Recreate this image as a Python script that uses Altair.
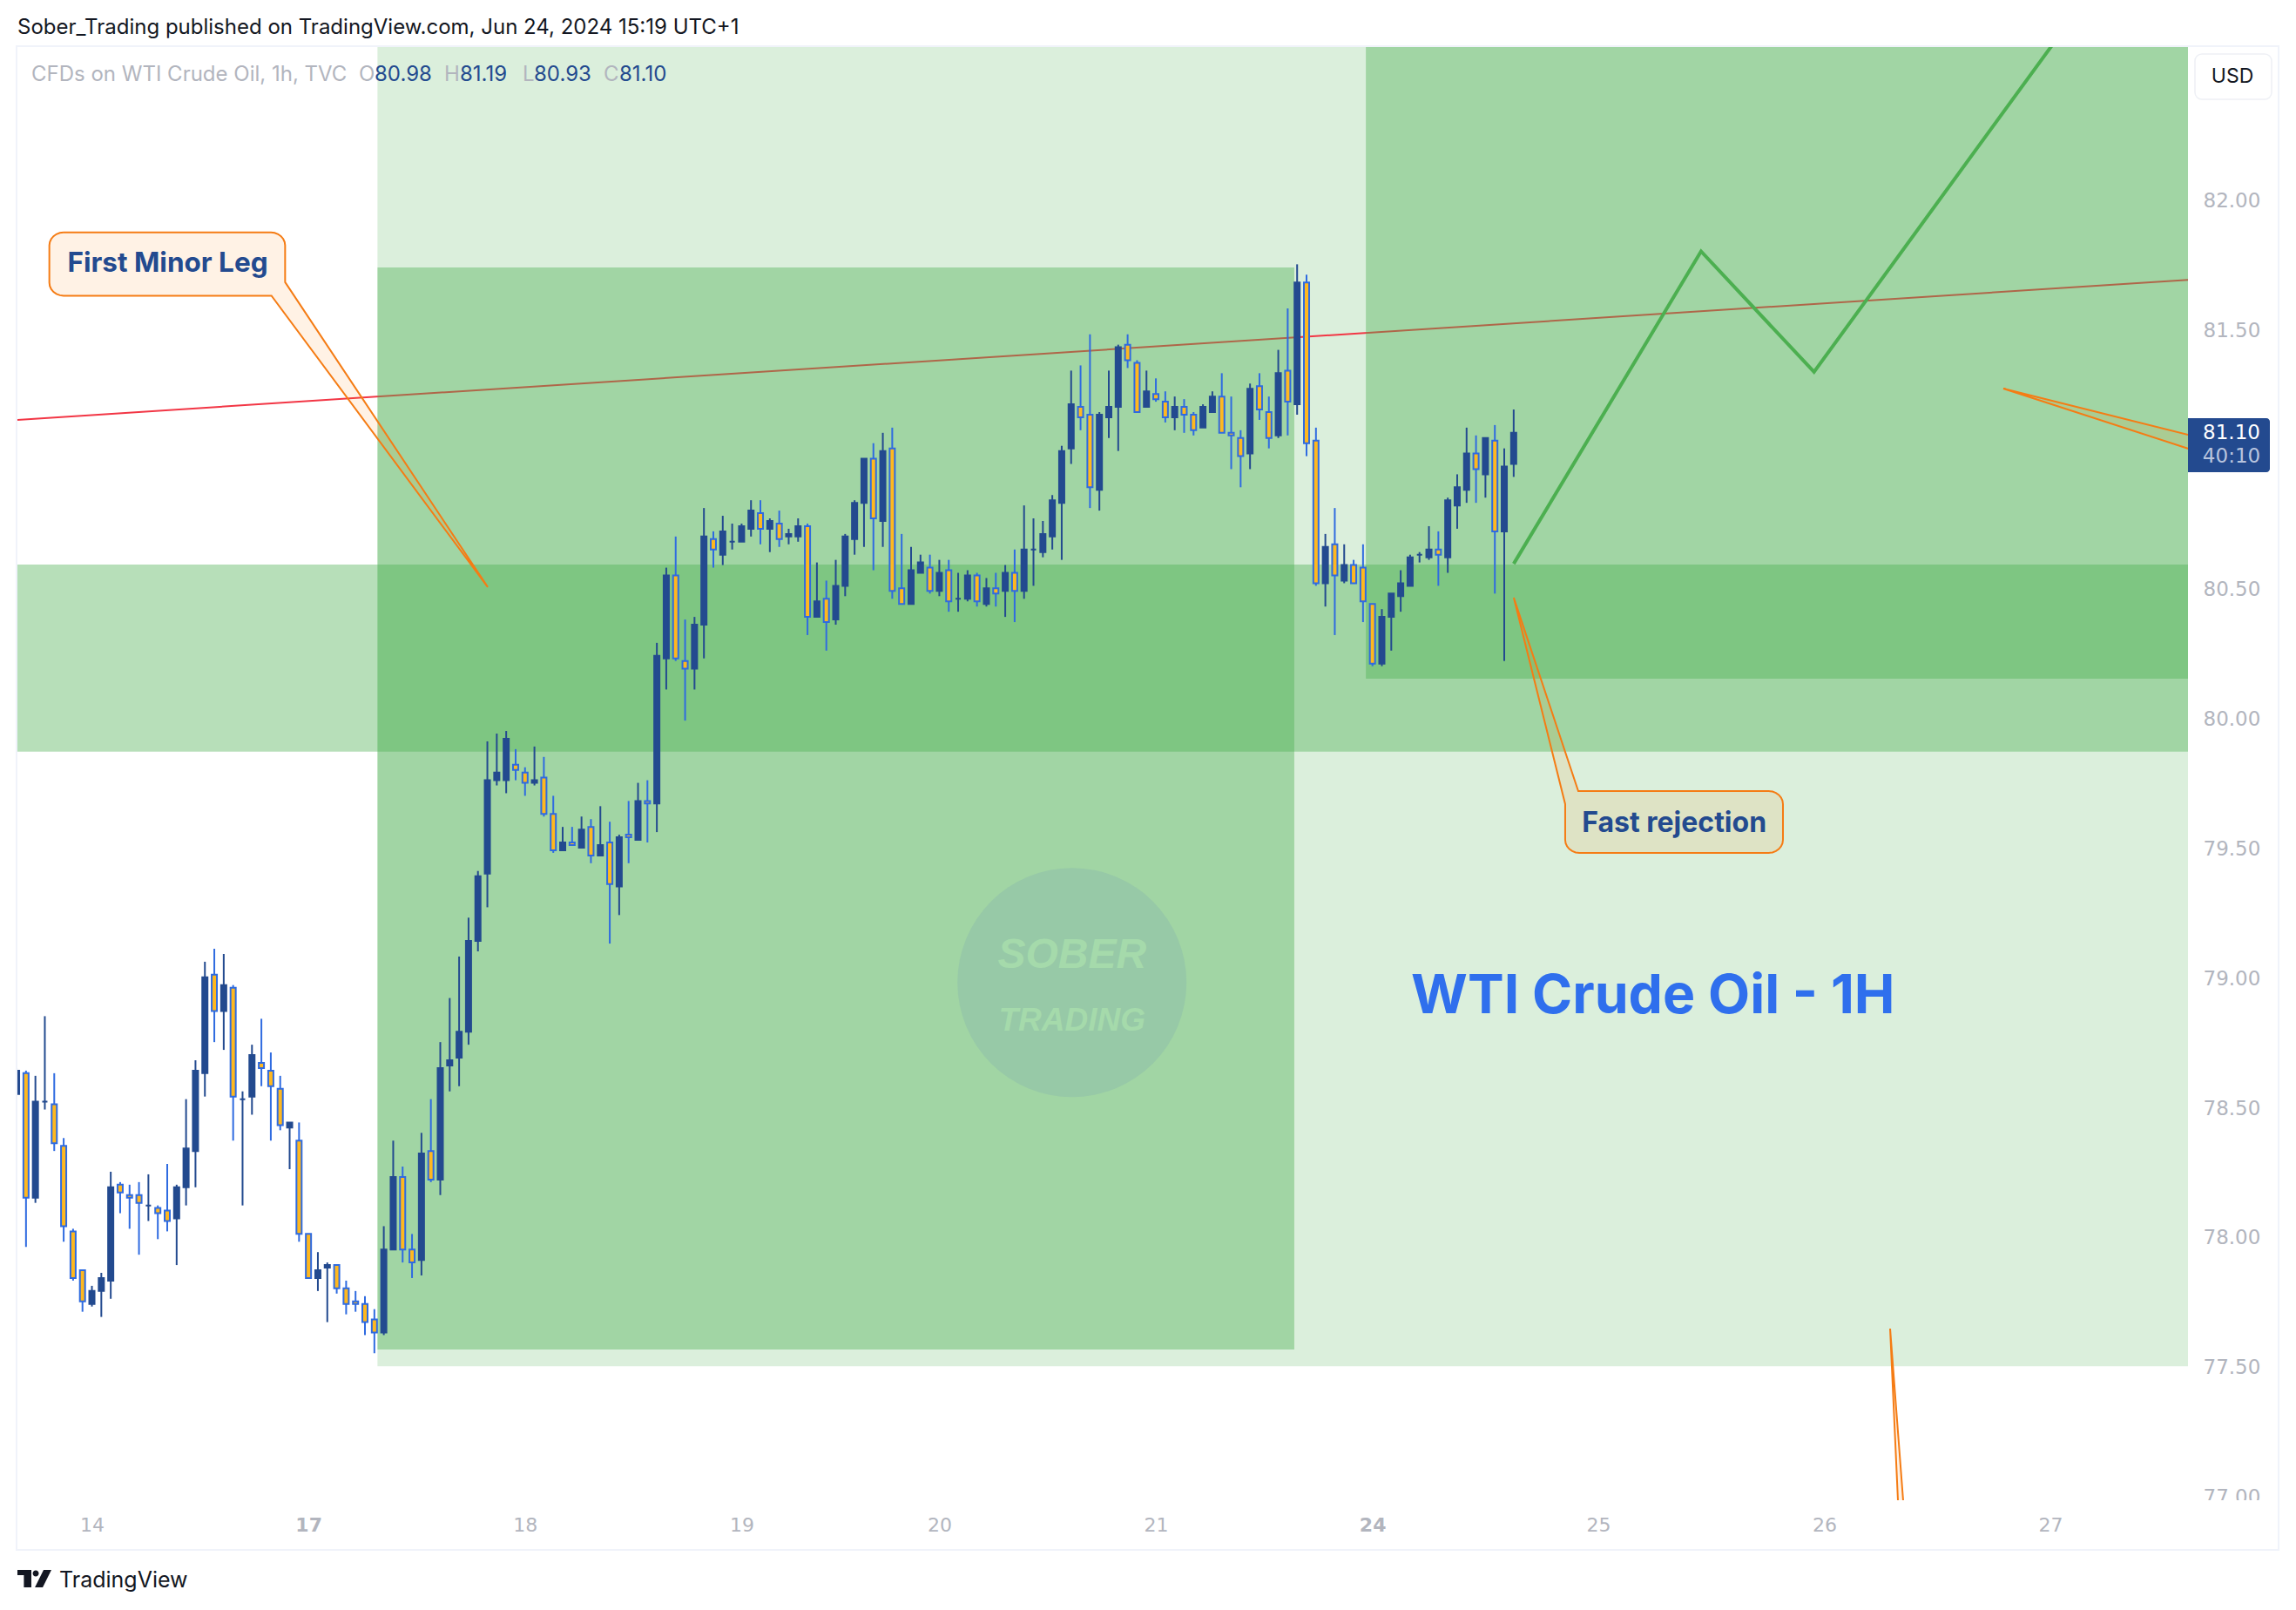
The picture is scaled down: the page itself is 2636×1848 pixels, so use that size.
import math
import altair as alt
import pandas as pd

NAVY = "#234A8F"; BLUE = "#2F6BE0"; ORANGE = "#FFB81F"; GREEN = "#4CAF50"; CALL = "#F57C14"; GREY = "#B2B5BE"; INK = "#131722"
FONT = "Inter"

opens = [78.55,78.63,78.15,78.52,78.51,78.35,78.02,77.87,77.74,77.79,77.83,78.20,78.16,78.16,78.12,78.11,78.10,78.07,78.19,78.33,
78.63,79.01,78.87,78.96,78.53,78.54,78.67,78.64,78.57,78.42,78.37,78.01,77.84,77.88,77.89,77.80,77.75,77.74,77.68,77.63,
77.95,78.23,77.95,77.91,78.33,78.22,78.66,78.69,78.79,79.14,79.40,79.76,79.76,79.82,79.79,79.75,79.77,79.63,79.49,79.52,
79.50,79.58,79.47,79.52,79.35,79.55,79.53,79.68,79.67,80.23,80.55,80.22,80.19,80.36,80.69,80.63,80.68,80.68,80.73,80.79,
80.73,80.75,80.70,80.70,80.74,80.39,80.46,80.38,80.51,80.69,80.83,81.00,80.76,81.04,80.50,80.44,80.56,80.58,80.49,80.57,
80.46,80.46,80.55,80.44,80.50,80.49,80.56,80.49,80.65,80.64,80.70,80.83,81.04,81.20,81.17,80.88,81.16,81.20,81.44,81.37,
81.20,81.25,81.22,81.16,81.20,81.17,81.12,81.18,81.24,81.10,81.08,81.02,81.28,81.18,81.09,81.34,81.21,81.68,81.07,80.52,
80.67,80.53,80.59,80.58,80.44,80.21,80.39,80.47,80.51,80.63,80.62,80.65,80.62,80.82,80.88,81.02,80.94,81.07,80.72,80.98]
highs = [78.65,78.64,78.62,78.85,78.63,78.38,78.03,77.87,77.81,77.86,78.25,78.21,78.20,78.21,78.24,78.12,78.28,78.20,78.53,78.68,
79.06,79.11,79.09,78.97,78.56,78.74,78.84,78.71,78.62,78.44,78.44,78.01,77.94,77.90,77.89,77.83,77.79,77.77,77.72,78.04,
78.37,78.27,78.01,78.40,78.53,78.75,78.92,79.08,79.23,79.41,79.91,79.94,79.95,79.88,79.81,79.89,79.85,79.70,79.58,79.58,
79.62,79.61,79.66,79.60,79.55,79.68,79.75,79.76,80.29,80.58,80.70,80.38,80.39,80.81,80.72,80.78,80.75,80.75,80.84,80.84,
80.77,80.80,80.73,80.77,80.75,80.60,80.53,80.61,80.71,80.84,81.00,81.06,81.10,81.12,80.71,80.66,80.63,80.63,80.61,80.61,
80.56,80.57,80.56,80.54,80.56,80.59,80.65,80.82,80.77,80.76,80.86,81.05,81.34,81.36,81.48,81.18,81.34,81.44,81.48,81.38,
81.34,81.31,81.26,81.24,81.23,81.18,81.21,81.26,81.33,81.24,81.11,81.29,81.33,81.24,81.42,81.58,81.75,81.71,81.12,80.71,
80.81,80.67,80.61,80.67,80.44,80.42,80.48,80.57,80.63,80.64,80.74,80.72,80.85,80.94,81.12,81.09,81.08,81.13,81.04,81.19]
lows = [78.55,77.96,78.13,78.49,78.33,77.98,77.83,77.71,77.73,77.69,77.76,78.09,78.03,77.93,78.06,77.99,78.02,77.89,78.12,78.19,
78.54,78.75,78.72,78.37,78.12,78.47,78.58,78.37,78.41,78.26,77.98,77.84,77.79,77.67,77.78,77.70,77.71,77.62,77.55,77.62,
77.95,77.90,77.84,77.85,78.21,78.16,78.56,78.58,78.74,79.10,79.27,79.74,79.71,79.76,79.70,79.74,79.62,79.48,79.49,79.51,
79.50,79.44,79.47,79.13,79.24,79.44,79.53,79.52,79.56,80.11,80.22,79.99,80.11,80.23,80.58,80.59,80.65,80.68,80.70,80.67,
80.64,80.66,80.67,80.68,80.32,80.39,80.26,80.36,80.47,80.63,80.66,80.57,80.66,80.46,80.44,80.44,80.56,80.48,80.47,80.41,
80.41,80.45,80.43,80.43,80.43,80.39,80.37,80.46,80.51,80.62,80.65,80.61,80.98,81.11,80.81,80.80,81.08,81.03,81.35,81.18,
81.20,81.22,81.14,81.11,81.10,81.09,81.12,81.18,81.10,80.96,80.89,80.96,81.15,81.04,81.08,81.09,81.17,81.01,80.51,80.43,
80.32,80.52,80.52,80.37,80.20,80.20,80.26,80.41,80.51,80.60,80.61,80.51,80.56,80.73,80.83,80.83,80.85,80.48,80.22,80.93]
closes = [78.64,78.15,78.52,78.52,78.36,78.04,77.84,77.75,77.79,77.84,78.19,78.17,78.15,78.13,78.12,78.09,78.06,78.19,78.34,78.64,
79.00,78.87,78.97,78.54,78.53,78.70,78.65,78.58,78.43,78.44,78.01,77.84,77.87,77.89,77.80,77.74,77.74,77.67,77.63,77.95,
78.23,77.95,77.90,78.32,78.22,78.65,78.68,78.79,79.14,79.39,79.76,79.79,79.92,79.80,79.75,79.76,79.63,79.49,79.52,79.51,
79.57,79.47,79.51,79.36,79.54,79.54,79.68,79.67,80.24,80.55,80.23,80.19,80.36,80.70,80.65,80.72,80.68,80.74,80.80,80.73,
80.76,80.69,80.71,80.74,80.39,80.45,80.37,80.51,80.70,80.83,81.00,80.77,81.03,80.49,80.44,80.57,80.60,80.49,80.56,80.45,
80.46,80.55,80.45,80.50,80.48,80.56,80.49,80.65,80.65,80.71,80.84,81.03,81.21,81.16,80.89,81.17,81.20,81.43,81.38,81.18,
81.26,81.23,81.16,81.20,81.17,81.11,81.20,81.24,81.10,81.09,81.01,81.27,81.19,81.08,81.33,81.22,81.68,81.06,80.52,80.66,
80.55,80.59,80.52,80.45,80.21,80.39,80.48,80.52,80.62,80.63,80.65,80.63,80.84,80.89,81.02,80.96,81.08,80.72,80.97,81.10]
first_bar = -1

day_bars = [7, 30, 53, 76, 97, 120, 143, 167, 191, 215]
day_labels = ["14", "17", "18", "19", "20", "21", "24", "25", "26", "27"]
bold_bars = [30, 143]
price_ticks = [77.0, 77.5, 78.0, 78.5, 79.0, 79.5, 80.0, 80.5, 81.0, 81.5, 82.0]

X_MIN, X_MAX = -0.911, 229.616
Y_MIN, Y_MAX = 76.983, 82.588
W, H = 2492, 1668

zones = {
    "premium": dict(x=37.33, x2=X_MAX, y=77.5, y2=Y_MAX, o=0.2),
    "leg": dict(x=37.33, x2=134.7, y=77.564, y2=81.738, o=0.4),
    "target": dict(x=142.3, x2=X_MAX, y=80.152, y2=Y_MAX, o=0.4),
    "band": dict(x=X_MIN, x2=X_MAX, y=79.87, y2=80.592, o=0.4),
}
trend_x = [X_MIN, X_MAX]
trend_y = [81.15, 81.69]
proj_x = [158.0, 177.9, 189.9, 219.3]
proj_y = [80.595, 81.80, 81.335, 82.80]

label_expr = "[" + ",".join(f"'{d}'" for d in day_labels) + "][indexof([" + ",".join(map(str, day_bars)) + "],datum.value)]"
bold_test = " || ".join(f"datum.value=={b}" for b in bold_bars)
xaxis = alt.Axis(values=day_bars, labelExpr=label_expr, grid=False, domain=False, ticks=False, labelPadding=18,
                 labelFontSize=22, labelColor=GREY, labelFont="DejaVu Sans", labelOverlap=False, labelFlush=False, title=None,
                 labelFontWeight={"condition": {"test": bold_test, "value": "bold"}, "value": "normal"})
yaxis = alt.Axis(orient="right", values=price_ticks, format=".2f", grid=False, domain=False, ticks=False, labelPadding=17,
                 labelFontSize=23, labelColor=GREY, labelFont="DejaVu Sans", labelOverlap=False, labelFlush=False, title=None,
                 labelOffset=1.5)

xs = alt.Scale(domain=[X_MIN, X_MAX], nice=False, zero=False, padding=0)
ys = alt.Scale(domain=[Y_MIN, Y_MAX], nice=False, zero=False, padding=0)
def X(f="x"): return alt.X(f"{f}:Q", scale=xs, axis=xaxis)
def Y(f="y"): return alt.Y(f"{f}:Q", scale=ys, axis=yaxis)

RX, RY = 1.5, 0.05  # corner radius in bars / price
def arc(cx, cy, a0, a1):
    return [(cx + RX * math.cos(math.radians(a0 + (a1 - a0) * k / 6)),
             cy + RY * math.sin(math.radians(a0 + (a1 - a0) * k / 6))) for k in range(7)]

def callout_a(l, r, t, b, tail_y, tip, tail_x):
    pts = [(l + RX, t)] + arc(r - RX, t - RY, 90, 0) + [(r, tail_y), tip, (tail_x, b)]
    pts += arc(l + RX, b + RY, 270, 180) + arc(l + RX, t - RY, 180, 90)
    return pts

def callout_b(l, r, t, b, tail_y, tip, tail_x):
    pts = [tip, (tail_x, t)] + arc(r - RX, t - RY, 90, 0) + arc(r - RX, b + RY, 0, -90)
    pts += arc(l + RX, b + RY, 270, 180) + [(l, tail_y), tip]
    return pts

shapes = [
    callout_a(2.48, 27.52, 81.873, 81.629, 81.681, (49.04, 80.505), 26.07),
    callout_b(163.47, 186.6, 79.718, 79.480, 79.668, (158.01, 80.464), 164.86),
    [(210.0, 81.271), (234.06, 81.052), (234.06, 80.987), (210.0, 81.271)],
    [(197.98, 77.645), (198.97, 76.855), (199.63, 76.855), (197.98, 77.645)],
]

def zone(name):
    z = zones[name]
    return alt.Chart(pd.DataFrame([z])).mark_rect(color=GREEN, opacity=z["o"], clip=True).encode(
        x=X(), x2="x2:Q", y=Y(), y2="y2:Q")

def line(xv, yv, **kw):
    df = pd.DataFrame({"x": xv, "y": yv, "o": range(len(xv))})
    return alt.Chart(df).mark_line(clip=True, **kw).encode(x=X(), y=Y(), order="o:Q")

def chrome_text(txt, px, py, **kw):
    kw.setdefault("font", FONT)
    return alt.Chart(pd.DataFrame({"t": [txt]})).mark_text(**kw).encode(
        text="t:N", x=alt.value(px - 20), y=alt.value(py - 54))

def data_text(txt, xv, yv, **kw):
    kw.setdefault("font", FONT)
    return alt.Chart(pd.DataFrame({"t": [txt], "x": [xv], "y": [yv]})).mark_text(**kw).encode(
        text="t:N", x=X(), y=Y())

candles = pd.DataFrame({"x": range(first_bar, first_bar + len(opens)), "o": opens, "h": highs, "l": lows, "c": closes})
candles["top"] = candles[["o", "c"]].max(axis=1)
candles["bot"] = candles[["o", "c"]].min(axis=1)
up = candles[candles.c >= candles.o]
dn = candles[candles.c < candles.o]

def wicks(df, col):
    return alt.Chart(df).mark_rule(color=col, strokeWidth=2, clip=True).encode(x=X(), y=Y("h"), y2="l:Q")
def bodies(df, fill, stroke):
    return alt.Chart(df).mark_bar(size=6, fill=fill, stroke=stroke, strokeWidth=2, clip=True).encode(x=X(), y=Y("top"), y2="bot:Q")

logo_path = ("M-1 -0.51 L-0.18 -0.51 L-0.18 0.51 L-0.62 0.51 L-0.62 -0.2 L-1 -0.2 Z "
             "M-0.1 -0.31 A0.18 0.18 0 1 0 0.26 -0.31 A0.18 0.18 0 1 0 -0.1 -0.31 Z "
             "M1 -0.51 L0.54 -0.51 L0.03 0.51 L0.49 0.51 Z")

layers = [zone("premium"), line(trend_x, trend_y, color="#F23645", strokeWidth=2)]
layers += [zone("leg"), zone("target"), zone("band")]
layers += [
    alt.Chart(pd.DataFrame({"x": [111.09], "y": [78.98]})).mark_point(
        shape="circle", size=69169, filled=True, fill="#97C9A7", opacity=1).encode(x=X(), y=Y()),
    data_text("SOBER", 111.09, 79.083, fontSize=48, fontStyle="italic", fontWeight="bold", font="Liberation Sans", color="#A5DAAB"),
    data_text("TRADING", 111.09, 78.83, fontSize=37, fontStyle="italic", fontWeight="bold", font="Liberation Sans", color="#A5DAAB"),
]
layers += [wicks(up, NAVY), wicks(dn, BLUE), bodies(up, NAVY, NAVY), bodies(dn, ORANGE, BLUE)]
layers.append(line(proj_x, proj_y, color=GREEN, strokeWidth=4))
for s in shapes:
    layers.append(line([p[0] for p in s], [p[1] for p in s], stroke=CALL, fill="#FF7F00", fillOpacity=0.1, strokeWidth=2))
layers += [
    data_text("First Minor Leg", 15.05, 81.75, fontSize=31.5, fontWeight="bold", color=NAVY),
    data_text("Fast rejection", 175.05, 79.595, fontSize=32, fontWeight="bold", color=NAVY),
    data_text("WTI Crude Oil - 1H", 172.8, 78.925, fontSize=62.5, fontWeight="bold", color="#2F6FED"),
]
# chrome: frame, price-axis mask, price label, USD button, header and footer
layers += [
    alt.Chart(pd.DataFrame({"a": [0]})).mark_rect(fillOpacity=0, stroke="#F0F3FA", strokeWidth=2).encode(
        x=alt.value(-1), x2=alt.value(2596), y=alt.value(-1), y2=alt.value(1725)),
    alt.Chart(pd.DataFrame({"a": [0]})).mark_rect(fill="white").encode(
        x=alt.value(W + 2), x2=alt.value(W + 92), y=alt.value(H), y2=alt.value(H + 30)),
    alt.Chart(pd.DataFrame({"a": [0]})).mark_rect(fill=NAVY, cornerRadiusTopRight=4, cornerRadiusBottomRight=4).encode(
        x=alt.value(W), x2=alt.value(W + 94), y=alt.value(426), y2=alt.value(488)),
    chrome_text("81.10", 2562, 497, fontSize=23, color="white", align="center", baseline="middle", font="DejaVu Sans"),
    chrome_text("40:10", 2562, 524, fontSize=23, color="#B8C4DE", align="center", baseline="middle", font="DejaVu Sans"),
    alt.Chart(pd.DataFrame({"a": [0]})).mark_rect(fill="white", stroke="#EEF0F5", strokeWidth=1.5, cornerRadius=8).encode(
        x=alt.value(2500), x2=alt.value(2588), y=alt.value(8), y2=alt.value(60)),
    chrome_text("USD", 2563, 88, fontSize=23, color=INK, align="center", baseline="middle"),
    chrome_text("Sober_Trading published on TradingView.com, Jun 24, 2024 15:19 UTC+1", 20, 32, fontSize=24, color=INK, align="left", baseline="middle"),
    chrome_text("CFDs on WTI Crude Oil, 1h, TVC", 36, 86, fontSize=24, color=GREY, align="left", baseline="middle"),
]
for letter, lx, value, vx in [("O", 412, "80.98", 430), ("H", 510, "81.19", 528), ("L", 600, "80.93", 613), ("C", 693, "81.10", 711)]:
    layers += [chrome_text(letter, lx, 86, fontSize=24, color=GREY, align="left", baseline="middle"),
               chrome_text(value, vx, 86, fontSize=24, color=NAVY, align="left", baseline="middle")]
layers += [
    chrome_text("TradingView", 68, 1814, fontSize=25, color=INK, align="left", baseline="middle"),
    alt.Chart(pd.DataFrame({"a": [0]})).mark_point(shape=logo_path, size=1521, filled=True, fill=INK, opacity=1).encode(
        x=alt.value(19.5), y=alt.value(1758)),
]

chart = alt.layer(*layers).resolve_scale(x="shared", y="shared").properties(
    width=W, height=H, autosize="none",
    padding={"left": 12, "top": 46, "right": 112, "bottom": 110},
    background="white",
).configure_view(stroke=None)

chart.save("out.html", embed_options={"renderer": "svg", "actions": False})
